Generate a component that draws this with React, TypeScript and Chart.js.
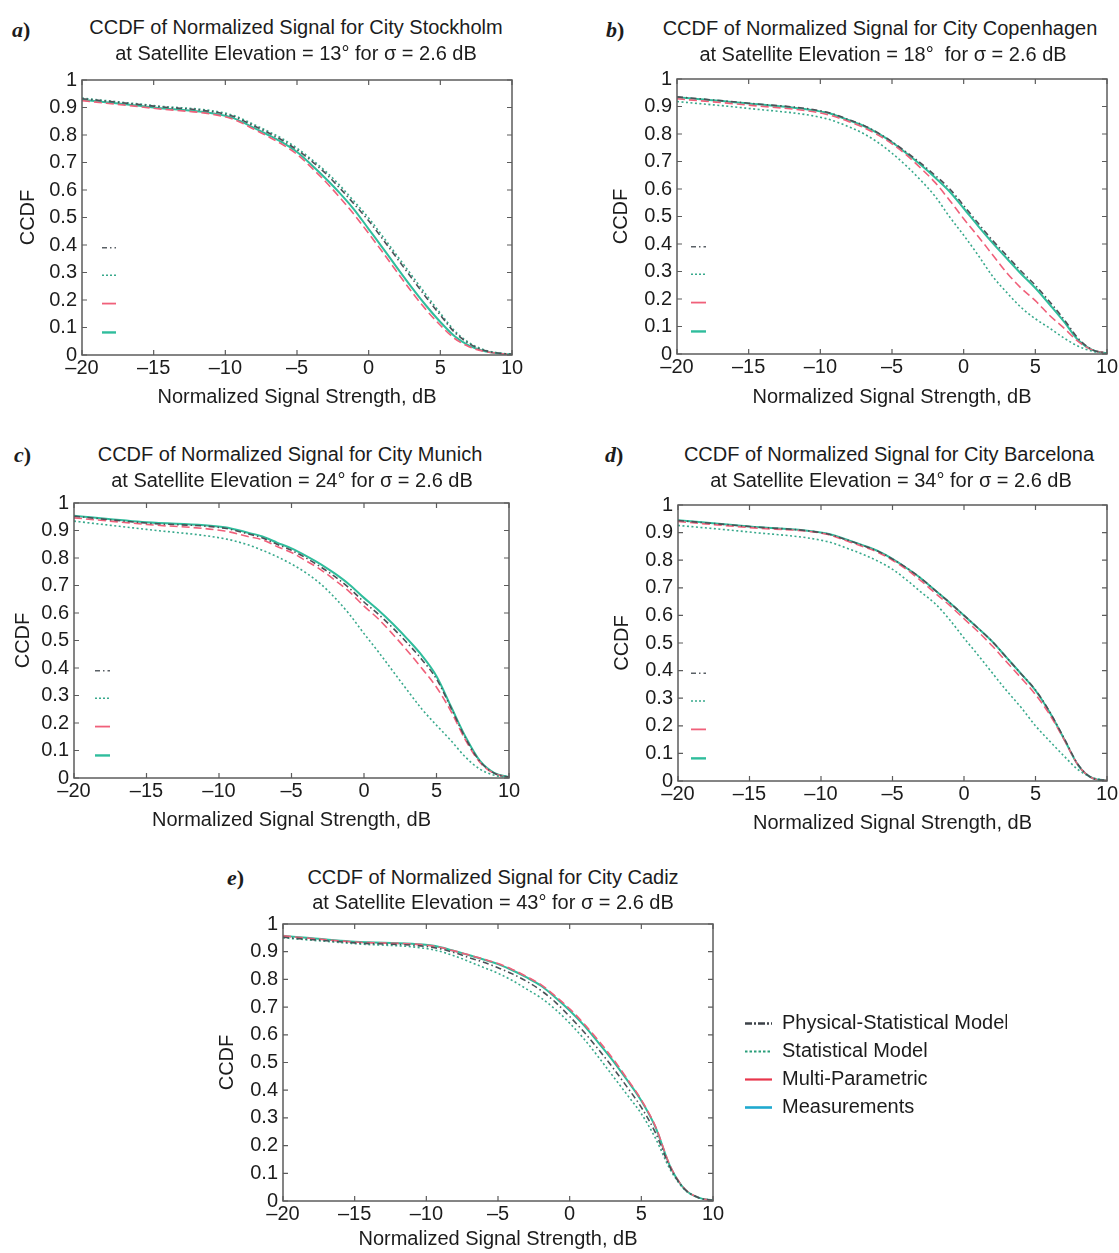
import React, { useEffect, useRef } from 'react';
import { Chart, registerables } from 'chart.js';

Chart.register(...registerables);

const FONT_FAMILY = "'Liberation Sans', Arial, Helvetica, sans-serif";
const SERIF_FAMILY = "'Liberation Serif', 'Times New Roman', serif";
const TEXT_COLOR = '#1c1c1c';
const FRAME_COLOR = '#5c5c5c';

// ---------------- data ----------------
const signalDb = [-20, -15, -9.6, -8, -7, -6, -5, -4, -3, -2, -1, 0, 1, 2, 3, 4, 5, 6, 7, 8, 9, 10];
const xTickValues = [-20, -15, -10, -5, 0, 5, 10];
const yTickValues = [0, 0.1, 0.2, 0.3, 0.4, 0.5, 0.6, 0.7, 0.8, 0.9, 1];
const seriesNames = ['Physical-Statistical Model', 'Statistical Model', 'Multi-Parametric', 'Measurements'];

const stockholmPhysical = [0.932, 0.905, 0.870, 0.833, 0.808, 0.780, 0.746, 0.706, 0.660, 0.606, 0.548, 0.488, 0.420, 0.350, 0.280, 0.210, 0.145, 0.082, 0.042, 0.018, 0.007, 0.003];
const stockholmStatistical = [0.934, 0.907, 0.874, 0.838, 0.813, 0.786, 0.752, 0.712, 0.668, 0.616, 0.558, 0.498, 0.430, 0.360, 0.290, 0.220, 0.152, 0.088, 0.045, 0.020, 0.008, 0.003];
const stockholmMulti = [0.925, 0.897, 0.860, 0.821, 0.794, 0.765, 0.730, 0.682, 0.630, 0.572, 0.510, 0.442, 0.372, 0.300, 0.230, 0.165, 0.108, 0.060, 0.030, 0.014, 0.006, 0.002];
const stockholmMeasured = [0.928, 0.900, 0.864, 0.826, 0.800, 0.772, 0.738, 0.692, 0.642, 0.588, 0.528, 0.458, 0.388, 0.316, 0.246, 0.180, 0.120, 0.068, 0.034, 0.015, 0.006, 0.002];

const copenhagenPhysical = [0.935, 0.912, 0.880, 0.852, 0.832, 0.805, 0.772, 0.734, 0.694, 0.650, 0.602, 0.540, 0.476, 0.414, 0.358, 0.302, 0.250, 0.190, 0.126, 0.056, 0.015, 0.003];
const copenhagenStatistical = [0.918, 0.893, 0.856, 0.826, 0.802, 0.770, 0.730, 0.684, 0.632, 0.574, 0.500, 0.432, 0.360, 0.284, 0.224, 0.170, 0.128, 0.094, 0.058, 0.028, 0.010, 0.003];
const copenhagenMulti = [0.928, 0.905, 0.872, 0.845, 0.824, 0.797, 0.764, 0.724, 0.676, 0.624, 0.560, 0.492, 0.428, 0.362, 0.296, 0.240, 0.194, 0.140, 0.094, 0.045, 0.014, 0.003];
const copenhagenMeasured = [0.934, 0.911, 0.878, 0.850, 0.830, 0.803, 0.770, 0.730, 0.688, 0.642, 0.592, 0.530, 0.466, 0.405, 0.348, 0.292, 0.240, 0.180, 0.118, 0.050, 0.014, 0.003];

const munichPhysical = [0.952, 0.927, 0.908, 0.888, 0.873, 0.850, 0.828, 0.800, 0.768, 0.732, 0.690, 0.640, 0.595, 0.545, 0.490, 0.430, 0.360, 0.255, 0.145, 0.060, 0.017, 0.003];
const munichStatistical = [0.934, 0.904, 0.870, 0.848, 0.828, 0.805, 0.778, 0.746, 0.706, 0.655, 0.595, 0.525, 0.458, 0.388, 0.318, 0.250, 0.192, 0.136, 0.076, 0.032, 0.010, 0.002];
const munichMulti = [0.946, 0.922, 0.898, 0.878, 0.866, 0.842, 0.820, 0.790, 0.758, 0.719, 0.677, 0.625, 0.578, 0.522, 0.462, 0.398, 0.330, 0.242, 0.138, 0.056, 0.016, 0.003];
const munichMeasured = [0.954, 0.930, 0.912, 0.892, 0.878, 0.856, 0.835, 0.808, 0.778, 0.743, 0.703, 0.655, 0.610, 0.560, 0.505, 0.445, 0.370, 0.260, 0.150, 0.062, 0.018, 0.003];

const barcelonaPhysical = [0.944, 0.922, 0.896, 0.870, 0.852, 0.832, 0.804, 0.772, 0.734, 0.690, 0.646, 0.600, 0.553, 0.504, 0.446, 0.388, 0.330, 0.250, 0.155, 0.058, 0.010, 0.002];
const barcelonaStatistical = [0.926, 0.902, 0.868, 0.840, 0.820, 0.796, 0.767, 0.728, 0.684, 0.642, 0.584, 0.518, 0.455, 0.390, 0.326, 0.266, 0.200, 0.144, 0.090, 0.040, 0.012, 0.002];
const barcelonaMulti = [0.940, 0.918, 0.894, 0.866, 0.848, 0.828, 0.800, 0.766, 0.725, 0.680, 0.636, 0.588, 0.540, 0.488, 0.430, 0.373, 0.313, 0.240, 0.150, 0.056, 0.010, 0.002];
const barcelonaMeasured = [0.945, 0.922, 0.897, 0.871, 0.853, 0.833, 0.805, 0.771, 0.734, 0.690, 0.646, 0.600, 0.553, 0.504, 0.446, 0.388, 0.328, 0.248, 0.152, 0.056, 0.010, 0.002];

const cadizPhysical = [0.952, 0.932, 0.916, 0.896, 0.878, 0.862, 0.842, 0.820, 0.793, 0.760, 0.718, 0.666, 0.610, 0.548, 0.482, 0.412, 0.338, 0.245, 0.122, 0.044, 0.012, 0.002];
const cadizStatistical = [0.950, 0.929, 0.908, 0.884, 0.864, 0.843, 0.822, 0.796, 0.765, 0.733, 0.692, 0.642, 0.585, 0.520, 0.452, 0.384, 0.315, 0.225, 0.115, 0.042, 0.012, 0.002];
const cadizMulti = [0.957, 0.935, 0.921, 0.902, 0.888, 0.873, 0.857, 0.836, 0.810, 0.781, 0.740, 0.694, 0.640, 0.580, 0.515, 0.442, 0.365, 0.268, 0.128, 0.045, 0.012, 0.002];
const cadizMeasured = [0.958, 0.936, 0.922, 0.902, 0.887, 0.872, 0.855, 0.833, 0.807, 0.777, 0.735, 0.688, 0.634, 0.572, 0.508, 0.437, 0.362, 0.265, 0.126, 0.044, 0.012, 0.002];

// ---------------- styles ----------------
const SERIES_STYLES = [
  { color: '#4b5157', width: 1.6, dash: [6, 3, 1.5, 3] },
  { color: '#38a98c', width: 1.6, dash: [2, 2.5] },
  { color: '#f0607a', width: 1.6, dash: [8, 4] },
  { color: '#2fbd9c', width: 2, dash: [] as number[] },
];
const MINI_STYLES = [
  { color: '#5a6066', width: 1.5, dash: [5, 3, 1.5, 3] },
  { color: '#38a98c', width: 1.5, dash: [2, 2] },
  { color: '#f0607a', width: 1.8, dash: [] as number[] },
  { color: '#2fbd9c', width: 2.4, dash: [] as number[] },
];
const LEGEND_STYLES = [
  { color: '#3c4248', width: 2.4, dash: [7, 2, 2, 2] },
  { color: '#2a9e7a', width: 2.2, dash: [2.5, 2] },
  { color: '#e8364c', width: 2.2, dash: [] as number[] },
  { color: '#1fa9cf', width: 2.6, dash: [] as number[] },
];

type PanelDef = {
  id: string;
  letter: string;
  titles: string[];
  series: number[][];
  plot: { l: number; r: number; t: number; b: number };
  ccdfX: number;
  xLabelY: number;
  titlePos: number[][];
  letterPos: number[];
  mini: { offset: number; len: number } | null;
  legend: boolean;
};

const PANELS: PanelDef[] = [
  {
    id: 'a', letter: 'a',
    titles: ['CCDF of Normalized Signal for City Stockholm', 'at Satellite Elevation = 13\u00b0 for \u03c3 = 2.6 dB'],
    series: [stockholmPhysical, stockholmStatistical, stockholmMulti, stockholmMeasured],
    plot: { l: 82, r: 512, t: 77, b: 355 }, ccdfX: 28, xLabelY: 397,
    titlePos: [[296, 27], [296, 53]], letterPos: [12, 30], mini: { offset: 20, len: 14 }, legend: false,
  },
  {
    id: 'b', letter: 'b',
    titles: ['CCDF of Normalized Signal for City Copenhagen', 'at Satellite Elevation = 18\u00b0  for \u03c3 = 2.6 dB'],
    series: [copenhagenPhysical, copenhagenStatistical, copenhagenMulti, copenhagenMeasured],
    plot: { l: 677, r: 1107, t: 76, b: 354 }, ccdfX: 621, xLabelY: 397,
    titlePos: [[880, 28], [883, 54]], letterPos: [606, 30], mini: { offset: 14, len: 15 }, legend: false,
  },
  {
    id: 'c', letter: 'c',
    titles: ['CCDF of Normalized Signal for City Munich', 'at Satellite Elevation = 24\u00b0 for \u03c3 = 2.6 dB'],
    series: [munichPhysical, munichStatistical, munichMulti, munichMeasured],
    plot: { l: 74, r: 509, t: 500, b: 778 }, ccdfX: 23, xLabelY: 820,
    titlePos: [[290, 454], [292, 480]], letterPos: [14, 455], mini: { offset: 21, len: 15 }, legend: false,
  },
  {
    id: 'd', letter: 'd',
    titles: ['CCDF of Normalized Signal for City Barcelona', 'at Satellite Elevation = 34\u00b0 for \u03c3 = 2.6 dB'],
    series: [barcelonaPhysical, barcelonaStatistical, barcelonaMulti, barcelonaMeasured],
    plot: { l: 678, r: 1107, t: 502, b: 781 }, ccdfX: 622, xLabelY: 823,
    titlePos: [[889, 454], [891, 480]], letterPos: [605, 455], mini: { offset: 13, len: 15 }, legend: false,
  },
  {
    id: 'e', letter: 'e',
    titles: ['CCDF of Normalized Signal for City Cadiz', 'at Satellite Elevation = 43\u00b0 for \u03c3 = 2.6 dB'],
    series: [cadizPhysical, cadizStatistical, cadizMulti, cadizMeasured],
    plot: { l: 283, r: 713, t: 921, b: 1201 }, ccdfX: 227, xLabelY: 1239,
    titlePos: [[493, 877], [493, 902]], letterPos: [227, 878], mini: null, legend: true,
  },
];

const Y_AXIS_W = 72;
const PAD_TOP = 14;
const PAD_BOTTOM = 2;
const PAD_RIGHT = 14;
const LEGEND_GAP = 24;
const LEGEND_W = 270;
const MINI_ROWS = [0.61, 0.71, 0.813, 0.918];

function geometry(p: PanelDef) {
  const cl = p.plot.l - Y_AXIS_W;
  const ct = p.plot.t - PAD_TOP;
  const xh = p.xLabelY - p.plot.b + 12;
  const extra = p.legend ? LEGEND_GAP + LEGEND_W : 0;
  const cw = p.plot.r + extra + PAD_RIGHT - cl;
  const ch = PAD_TOP + (p.plot.b - p.plot.t) + xh + PAD_BOTTOM;
  const yTitlePad = p.ccdfX - cl - 12;
  return { cl, ct, cw, ch, xh, yTitlePad };
}

const formatX = (v: number) => (v < 0 ? '\u2013' + Math.abs(v) : String(v));
const formatY = (v: number) => (v === 0 ? '0' : v === 1 ? '1' : v.toFixed(1));

const framePlugin = {
  id: 'matlabFrame',
  afterDatasetsDraw(chart: any) {
    const { ctx, chartArea, scales } = chart;
    const { left, top, right, bottom } = chartArea;
    const x = scales.x;
    const y = scales.y;
    const tl = 5;
    ctx.save();
    ctx.strokeStyle = FRAME_COLOR;
    ctx.lineWidth = 1.5;
    ctx.setLineDash([]);
    ctx.strokeRect(left, top, right - left, bottom - top);
    ctx.beginPath();
    x.ticks.forEach((t: any) => {
      const px = x.getPixelForValue(t.value);
      ctx.moveTo(px, bottom); ctx.lineTo(px, bottom - tl);
      ctx.moveTo(px, top); ctx.lineTo(px, top + tl);
    });
    y.ticks.forEach((t: any) => {
      const py = y.getPixelForValue(t.value);
      ctx.moveTo(left, py); ctx.lineTo(left + tl, py);
      ctx.moveTo(right, py); ctx.lineTo(right - tl, py);
    });
    ctx.lineWidth = 1.2;
    ctx.stroke();
    ctx.restore();
  },
};

const miniLegendPlugin = {
  id: 'miniLegend',
  afterDatasetsDraw(chart: any, _args: any, opts: any) {
    if (!opts || !opts.display) return;
    const { ctx, chartArea } = chart;
    const h = chartArea.bottom - chartArea.top;
    chart.data.datasets.forEach((_ds: any, i: number) => {
      const st = MINI_STYLES[i];
      const yy = chartArea.top + h * MINI_ROWS[i];
      const x0 = chartArea.left + opts.offset;
      ctx.save();
      ctx.strokeStyle = st.color;
      ctx.lineWidth = st.width;
      ctx.setLineDash(st.dash);
      ctx.beginPath();
      ctx.moveTo(x0, yy);
      ctx.lineTo(x0 + opts.len, yy);
      ctx.stroke();
      ctx.restore();
    });
  },
};

function buildConfig(p: PanelDef): any {
  const g = geometry(p);
  const datasets = p.series.map((vals, i) => ({
    label: seriesNames[i],
    data: signalDb.map((x, k) => ({ x, y: vals[k] })),
    borderColor: SERIES_STYLES[i].color,
    backgroundColor: SERIES_STYLES[i].color,
    borderWidth: SERIES_STYLES[i].width,
    borderDash: SERIES_STYLES[i].dash,
    borderCapStyle: 'butt',
    pointRadius: 0,
    fill: false,
    cubicInterpolationMode: 'monotone',
  }));

  const tickFont = { family: FONT_FAMILY, size: 20 };
  const scales: any = {
    x: {
      type: 'linear', min: -20, max: 10,
      afterBuildTicks: (s: any) => { s.ticks = xTickValues.map((value) => ({ value })); },
      ticks: { callback: (v: number) => formatX(v), font: tickFont, color: TEXT_COLOR, padding: 1, maxRotation: 0, autoSkip: false },
      grid: { display: false, drawTicks: false },
      border: { display: false },
      title: { display: true, text: 'Normalized Signal Strength, dB', font: tickFont, color: TEXT_COLOR, padding: { top: 0, bottom: 0 } },
      afterFit: (s: any) => { s.height = g.xh; },
    },
    y: {
      type: 'linear', min: 0, max: 1,
      afterBuildTicks: (s: any) => { s.ticks = yTickValues.map((value) => ({ value })); },
      ticks: { callback: (v: number) => formatY(v), font: tickFont, color: TEXT_COLOR, padding: 5, autoSkip: false },
      grid: { display: false, drawTicks: false },
      border: { display: false },
      title: { display: true, text: 'CCDF', font: tickFont, color: TEXT_COLOR, padding: { top: g.yTitlePad, bottom: 0 } },
      afterFit: (s: any) => { s.width = Y_AXIS_W; },
    },
  };
  if (p.legend) {
    scales.yPad = {
      type: 'linear', axis: 'y', position: 'right', min: 0, max: 1, display: true,
      ticks: { display: false }, grid: { display: false, drawTicks: false }, border: { display: false },
      afterFit: (s: any) => { s.width = LEGEND_GAP; },
    };
  }

  return {
    type: 'line',
    data: { datasets },
    options: {
      animation: false,
      responsive: false,
      devicePixelRatio: 1,
      events: [],
      layout: { padding: { top: PAD_TOP, bottom: PAD_BOTTOM, left: 0, right: PAD_RIGHT } },
      scales,
      plugins: {
        title: { display: false },
        tooltip: { enabled: false },
        miniLegend: p.mini ? { display: true, offset: p.mini.offset, len: p.mini.len } : { display: false },
        legend: p.legend
          ? {
              display: true,
              position: 'right',
              fullSize: false,
              maxWidth: LEGEND_W,
              align: 'center',
              title: { display: true, text: '', font: { size: 5, lineHeight: 1.2 }, padding: { top: 0, bottom: 0 } },
              labels: {
                font: { family: FONT_FAMILY, size: 20 },
                color: TEXT_COLOR,
                usePointStyle: true,
                pointStyle: 'line',
                pointStyleWidth: 27,
                padding: 8,
                generateLabels: (chart: any) =>
                  chart.data.datasets.map((ds: any, i: number) => ({
                    text: ds.label,
                    fillStyle: LEGEND_STYLES[i].color,
                    strokeStyle: LEGEND_STYLES[i].color,
                    lineWidth: LEGEND_STYLES[i].width,
                    lineDash: LEGEND_STYLES[i].dash,
                    lineCap: 'butt',
                    pointStyle: 'line',
                    hidden: false,
                    datasetIndex: i,
                    fontColor: TEXT_COLOR,
                  })),
              },
            }
          : { display: false },
      },
    },
    plugins: [framePlugin, miniLegendPlugin],
  };
}

function PanelChart({ p }: { p: PanelDef }) {
  const ref = useRef<HTMLCanvasElement | null>(null);
  const g = geometry(p);
  useEffect(() => {
    if (!ref.current) return;
    const chart = new Chart(ref.current, buildConfig(p));
    return () => chart.destroy();
  }, [p]);
  return (
    <canvas
      ref={ref}
      width={g.cw}
      height={g.ch}
      style={{ position: 'absolute', left: g.cl, top: g.ct, width: g.cw, height: g.ch }}
    />
  );
}

export default function App() {
  return (
    <div
      style={{
        position: 'absolute', left: 0, top: 0, width: 1119, height: 1253,
        overflow: 'hidden', background: '#ffffff', fontFamily: FONT_FAMILY, color: TEXT_COLOR,
      }}
    >
      {PANELS.map((p) => (
        <React.Fragment key={p.id}>
          <PanelChart p={p} />
          {p.titles.map((t, i) => (
            <div
              key={i}
              style={{
                position: 'absolute', left: p.titlePos[i][0], top: p.titlePos[i][1],
                transform: 'translate(-50%, -50%)', whiteSpace: 'pre', fontSize: 20, lineHeight: '20px',
              }}
            >
              {t}
            </div>
          ))}
          <div
            style={{
              position: 'absolute', left: p.letterPos[0], top: p.letterPos[1], transform: 'translateY(-50%)',
              fontFamily: SERIF_FAMILY, fontSize: 22, fontWeight: 'bold', lineHeight: '22px', whiteSpace: 'pre',
            }}
          >
            <i>{p.letter}</i>)
          </div>
        </React.Fragment>
      ))}
    </div>
  );
}
